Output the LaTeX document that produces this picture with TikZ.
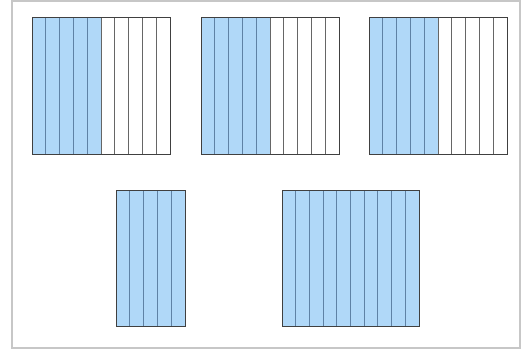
\documentclass[tikz,border=0pt]{standalone}
\begin{document}
\begin{tikzpicture}[x=1pt,y=-1pt,
  frame/.style={draw=black!22,line width=1.2pt},
  bluefill/.style={fill=lightblue},
  stripline/.style={draw=black!60,line width=1pt},
  bluestrip/.style={draw=stripblue,line width=1.1pt},
  outline/.style={draw=black!75,line width=1pt}]
\definecolor{lightblue}{RGB}{176,216,248}
\definecolor{stripblue}{RGB}{95,130,165}
\useasboundingbox (0,0) rectangle (523,350);
\draw[frame] (12,1) rectangle (520,348);
% top row: three rectangles, half shaded
\foreach \xo in {32,201,369}{
  \pgfmathsetmacro{\w}{138}
  \fill[bluefill] (\xo,18) rectangle ({\xo+\w/2},155);
  \foreach \i in {1,...,9}{
    \pgfmathsetmacro{\xx}{\xo+\i*\w/10}
    \ifnum\i<5 \draw[bluestrip] (\xx,18) -- (\xx,155);
    \else \draw[stripline] (\xx,18) -- (\xx,155); \fi
  }
  \draw[outline] (\xo,18) rectangle ({\xo+\w},155);
}
% bottom left: 5 strips
\fill[bluefill] (116,191) rectangle (185,327);
\foreach \i in {1,...,4}{
  \pgfmathsetmacro{\xx}{116+\i*13.8}
  \draw[bluestrip] (\xx,191) -- (\xx,327);
}
\draw[outline] (116,191) rectangle (185,327);
% bottom right: 10 strips
\fill[bluefill] (282,191) rectangle (419,327);
\foreach \i in {1,...,9}{
  \pgfmathsetmacro{\xx}{282+\i*13.7}
  \draw[bluestrip] (\xx,191) -- (\xx,327);
}
\draw[outline] (282,191) rectangle (419,327);
\end{tikzpicture}
\end{document}
